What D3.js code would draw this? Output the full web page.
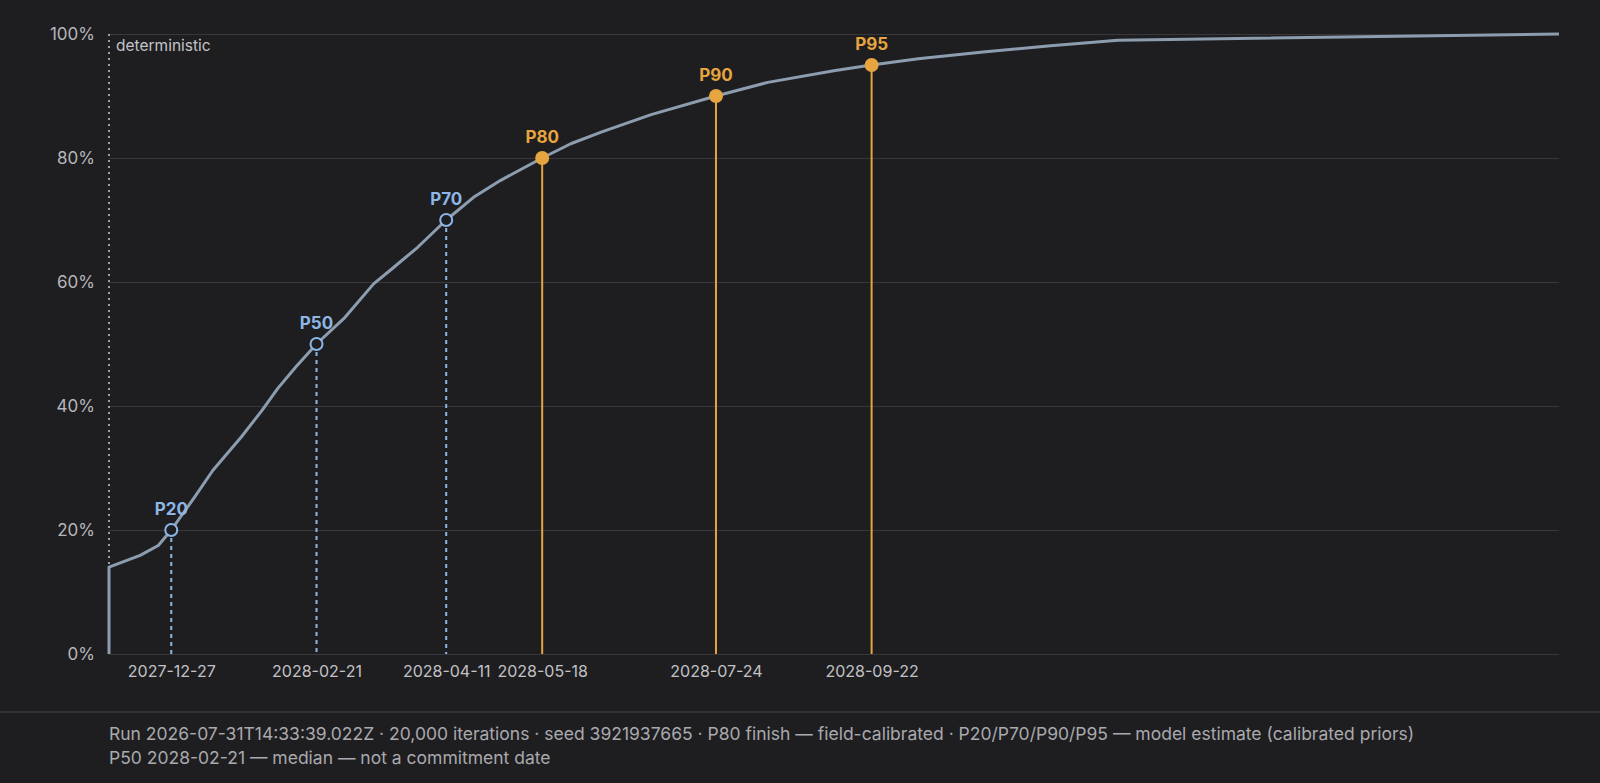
<!DOCTYPE html>
<html>
<head>
<meta charset="utf-8">
<script src="https://cdn.jsdelivr.net/npm/d3@7"></script>
<style>
  html, body { margin: 0; padding: 0; background: #1e1e20; }
  svg { display: block; }
  text { font-family: Inter, "Noto Sans", "DejaVu Sans", sans-serif; }
</style>
</head>
<body>
<svg id="chart"></svg>
<script>
// cumulative finish probability
const cdfDates = [
  "2027-12-03", "2027-12-03", "2027-12-15", "2027-12-22", "2027-12-27",
  "2028-01-05", "2028-01-12", "2028-01-23", "2028-01-31", "2028-02-06",
  "2028-02-13", "2028-02-21", "2028-03-03", "2028-03-14", "2028-03-21",
  "2028-03-31", "2028-04-11", "2028-04-22", "2028-05-02", "2028-05-18",
  "2028-05-29", "2028-06-10", "2028-06-29", "2028-07-24", "2028-08-13",
  "2028-09-08", "2028-09-22", "2028-10-10", "2028-11-04", "2028-11-30",
  "2028-12-26", "2029-06-14"
];
const cdfPct = [
  0, 14, 15.9, 17.5, 20,
  25.3, 29.6, 35, 39.3, 42.8,
  46.3, 50, 54.3, 59.7, 62.1,
  65.6, 70, 73.8, 76.4, 80,
  82.3, 84.2, 87, 90, 92.2,
  94.1, 95, 96, 97.1, 98.1,
  99, 100
];

const pctLabels = ["P20", "P50", "P70", "P80", "P90", "P95"];
const pctValues = [20, 50, 70, 80, 90, 95];
const pctDates = ["2027-12-27", "2028-02-21", "2028-04-11", "2028-05-18", "2028-07-24", "2028-09-22"];

const deterministicDate = "2027-12-03";
const yTicks = [0, 20, 40, 60, 80, 100];

const footerLines = [
  "Run 2026-07-31T14:33:39.022Z \u00b7 20,000 iterations \u00b7 seed 3921937665 \u00b7 P80 finish \u2014 field-calibrated \u00b7 P20/P70/P90/P95 \u2014 model estimate (calibrated priors)",
  "P50 2028-02-21 \u2014 median \u2014 not a commitment date"
];

const W = 1600, H = 783;
const margin = { top: 34, right: 41, bottom: 129, left: 109 };
const width = W - margin.left - margin.right;
const height = H - margin.top - margin.bottom;

const parse = d3.utcParse("%Y-%m-%d");
const fmt = d3.utcFormat("%Y-%m-%d");

const blue = "#8db6e6";
const orange = "#e6a53e";
const bg = "#1e1e20";
const grid = "#38383c";

const svg = d3.select("#chart")
  .attr("width", W)
  .attr("height", H)
  .style("background", bg);

const g = svg.append("g")
  .attr("transform", `translate(${margin.left},${margin.top})`);

const x = d3.scaleUtc()
  .domain([parse(deterministicDate), parse(cdfDates[cdfDates.length - 1])])
  .range([0, width]);

const y = d3.scaleLinear()
  .domain([0, 100])
  .range([height, 0]);

// grid + y labels
const yAxis = g.append("g")
  .call(d3.axisLeft(y).tickValues(yTicks).tickSize(-width).tickPadding(14).tickFormat(d => d + "%"));
yAxis.select(".domain").remove();
yAxis.selectAll(".tick line").attr("stroke", grid).attr("stroke-width", 1.2);
yAxis.selectAll(".tick text")
  .attr("fill", "#b6b6ba")
  .style("font-size", "17px");

// x labels at the percentile dates
const xAxis = g.append("g")
  .attr("transform", `translate(0,${height})`)
  .call(d3.axisBottom(x).tickValues(pctDates.map(parse)).tickSize(0).tickPadding(12).tickFormat(fmt));
xAxis.select(".domain").remove();
xAxis.selectAll(".tick text")
  .attr("fill", "#c2c2c6")
  .style("font-size", "16px");

// deterministic marker
const xd = x(parse(deterministicDate));
g.append("line")
  .attr("x1", xd).attr("x2", xd)
  .attr("y1", y(0)).attr("y2", y(100))
  .attr("stroke", "#c8c8cc")
  .attr("stroke-width", 1.5)
  .attr("stroke-dasharray", "2,4");
g.append("text")
  .attr("x", xd + 7)
  .attr("y", y(100) + 17)
  .attr("fill", "#c4c4c8")
  .style("font-size", "15.5px")
  .text("deterministic");

// percentile drop lines
const pts = pctLabels.map((label, i) => ({
  label,
  value: pctValues[i],
  date: parse(pctDates[i]),
  solid: pctValues[i] >= 80
}));

g.selectAll(".drop")
  .data(pts)
  .enter().append("line")
  .attr("class", "drop")
  .attr("x1", d => x(d.date)).attr("x2", d => x(d.date))
  .attr("y1", d => y(d.value)).attr("y2", y(0))
  .attr("stroke", d => d.solid ? orange : blue)
  .attr("stroke-width", 2)
  .attr("stroke-dasharray", d => d.solid ? null : "4,4");

// cdf curve
const curve = cdfDates.map((d, i) => ({ date: parse(d), pct: cdfPct[i] }));
g.append("path")
  .datum(curve)
  .attr("fill", "none")
  .attr("stroke", "#8d9db0")
  .attr("stroke-width", 3)
  .attr("stroke-linejoin", "round")
  .attr("d", d3.line().x(d => x(d.date)).y(d => y(d.pct)));

// markers
g.selectAll(".marker")
  .data(pts)
  .enter().append("circle")
  .attr("class", "marker")
  .attr("cx", d => x(d.date))
  .attr("cy", d => y(d.value))
  .attr("r", d => d.solid ? 7 : 6)
  .attr("fill", d => d.solid ? orange : bg)
  .attr("stroke", d => d.solid ? "none" : blue)
  .attr("stroke-width", 2);

g.selectAll(".plabel")
  .data(pts)
  .enter().append("text")
  .attr("class", "plabel")
  .attr("x", d => x(d.date))
  .attr("y", d => y(d.value) - 15)
  .attr("text-anchor", "middle")
  .attr("fill", d => d.solid ? orange : blue)
  .style("font-size", "17px")
  .style("font-weight", "700")
  .text(d => d.label);

// footer
svg.append("line")
  .attr("x1", 0).attr("x2", W)
  .attr("y1", 712).attr("y2", 712)
  .attr("stroke", "#3a3a3e")
  .attr("stroke-width", 1.5);

svg.selectAll(".foot")
  .data(footerLines)
  .enter().append("text")
  .attr("class", "foot")
  .attr("x", margin.left)
  .attr("y", (d, i) => 740 + i * 24)
  .attr("fill", "#a9a9ae")
  .style("font-size", "17.5px")
  .text(d => d);
</script>
</body>
</html>
